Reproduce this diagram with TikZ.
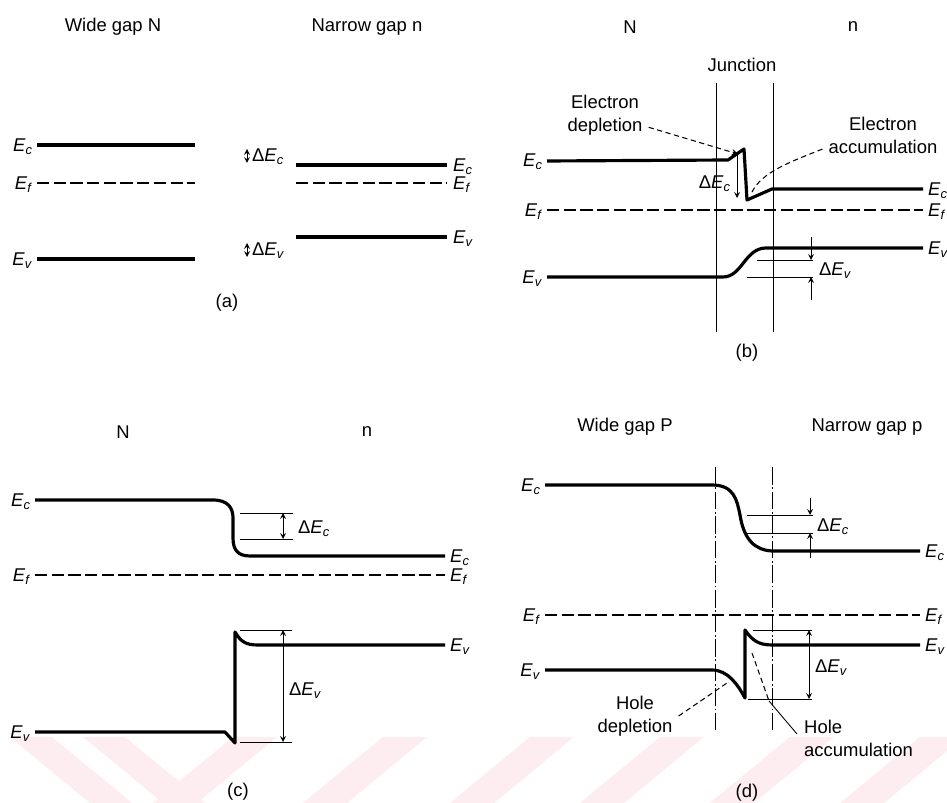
\documentclass[tikz,border=0pt]{standalone}
\usepackage{fontspec}
\setmainfont{Liberation Sans}
\newcommand{\bandE}[1]{\textit{E}\textsubscript{\textit{#1}}}
\newcommand{\dbandE}[1]{Δ\bandE{#1}}
\definecolor{wmpink}{RGB}{253,236,240}
\begin{document}
\begin{tikzpicture}[x=0.02cm, y=-0.02cm, >=stealth,
  font=\fontsize{10.5}{13}\selectfont,
  bandline/.style={black, line width=1.8pt, line join=round},
  fermiline/.style={black, line width=1.3pt, dash pattern=on 7pt off 2.5pt},
  thinline/.style={black, line width=0.5pt},
  junctline/.style={black, line width=0.5pt, dash pattern=on 10pt off 1.5pt on 1pt off 1.5pt},
  leader/.style={black, line width=0.6pt, dash pattern=on 3pt off 2pt},
  lbl/.style={inner sep=1pt}]
\useasboundingbox (0,0) rectangle (947,803);

% watermark stripes
\begin{scope}
\clip (0,737) rectangle (947,803);
\foreach \a in {10,83}
  \fill[wmpink] (\a,737) -- (\a+42,737) -- (\a+122,803) -- (\a+80,803) -- cycle;
\foreach \a in {233,383,530,660,790,920}
  \fill[wmpink] (\a,737) -- (\a+44,737) -- (\a-36,803) -- (\a-80,803) -- cycle;
\end{scope}

% (a) before contact
\node (tWideN) at (113,27) {Wide gap N};
\node (tNarrowN) at (367,27) {Narrow gap n};

\draw[bandline] (37,145) -- (195,145);
\draw[fermiline] (37,183) -- (195,183);
\draw[bandline] (37,259) -- (195,259);
\node[lbl, anchor=east] (aEcL) at (35,147) {\bandE{c}};
\node[lbl, anchor=east] (aEfL) at (35,185) {\bandE{f}};
\node[lbl, anchor=east] (aEvL) at (35,261) {\bandE{v}};

\draw[bandline] (296,165) -- (447,165);
\draw[fermiline] (296,183) -- (447,183);
\draw[bandline] (296,237) -- (447,237);
\node[lbl, anchor=west] (aEcR) at (451,167) {\bandE{c}};
\node[lbl, anchor=west] (aEfR) at (451,185) {\bandE{f}};
\node[lbl, anchor=west] (aEvR) at (451,239) {\bandE{v}};

\draw[thinline, <->] (247,149) -- (247,163);
\node[lbl, anchor=west] (aDEc) at (250,157) {\dbandE{c}};
\draw[thinline, <->] (247,243) -- (247,257);
\node[lbl, anchor=west] (aDEv) at (250,251) {\dbandE{v}};

\node (capA) at (227,303) {(a)};

% (b) N-n junction
\node (tN) at (630,27) {N};
\node (tn) at (853,27) {n};
\node (junc) at (742,65) {Junction};
\draw[thinline] (716,83) -- (716,332);
\draw[thinline] (773,83) -- (773,332);

\draw[bandline] (547,161) -- (728,160) -- (744,149) -- (747,200) -- (772,189) -- (923,189);
\draw[fermiline] (547,210) -- (923,210);
\draw[bandline] (547,277) -- (723,277) .. controls (742,277) and (745,248) .. (766,248) -- (923,248);
\node[lbl, anchor=east] (bEcL) at (545,162) {\bandE{c}};
\node[lbl, anchor=east] (bEfL) at (545,212) {\bandE{f}};
\node[lbl, anchor=east] (bEvL) at (545,279) {\bandE{v}};
\node[lbl, anchor=west] (bEcR) at (926,191) {\bandE{c}};
\node[lbl, anchor=west] (bEfR) at (926,212) {\bandE{f}};
\node[lbl, anchor=west] (bEvR) at (926,250) {\bandE{v}};

\draw[thinline, ->] (737,152) -- (737,198);
\node[lbl, anchor=east] (bDEc) at (733,184) {\dbandE{c}};

\draw[thinline] (757,260) -- (813,260);
\draw[thinline] (747,277) -- (813,277);
\draw[thinline, ->] (811,237) -- (811,260);
\draw[thinline, ->] (811,300) -- (811,277);
\node[lbl, anchor=west] (bDEv) at (817,271) {\dbandE{v}};

\node[align=center] (eDepl) at (605,115) {Electron\\depletion};
\coordinate (eDeplTip) at (738,154);
\draw[leader, ->] ([yshift=-7pt]eDepl.east) -- (eDeplTip);
\node[align=center] (eAccu) at (883,135) {Electron\\accumulation};
\coordinate (eAccuTip) at (752,192);
\draw[leader] ([yshift=-8pt]eAccu.west) .. controls (790,162) and (762,172) .. (eAccuTip);

\node (capB) at (747,353) {(b)};

% (c) N-n, abrupt
\node (tNc) at (123,432) {N};
\node (tnc) at (367,432) {n};

\draw[bandline] (35,500) -- (213,500) .. controls (228,500) and (233,508) .. (233,518) -- (233,538) .. controls (233,550) and (238,556) .. (250,556) -- (445,556);
\draw[fermiline] (35,575) -- (445,575);
\draw[bandline] (35,732) -- (225,732) -- (235,743) -- (235,632) .. controls (241,642) and (246,645) .. (258,645) -- (445,645);
\node[lbl, anchor=east] (cEcL) at (33,502) {\bandE{c}};
\node[lbl, anchor=east] (cEfL) at (33,577) {\bandE{f}};
\node[lbl, anchor=east] (cEvL) at (33,734) {\bandE{v}};
\node[lbl, anchor=west] (cEcR) at (448,558) {\bandE{c}};
\node[lbl, anchor=west] (cEfR) at (448,577) {\bandE{f}};
\node[lbl, anchor=west] (cEvR) at (448,647) {\bandE{v}};

\draw[thinline] (240,513) -- (293,513);
\draw[thinline] (240,539) -- (293,539);
\draw[thinline, <->] (283,513) -- (283,539);
\node[lbl, anchor=west] (cDEc) at (296,529) {\dbandE{c}};

\draw[thinline] (240,630) -- (292,630);
\draw[thinline] (240,742) -- (292,742);
\draw[thinline, <->] (283,630) -- (283,742);
\node[lbl, anchor=west] (cDEv) at (287,691) {\dbandE{v}};

\node (capC) at (238,792) {(c)};

% (d) P-p junction
\node (tWideP) at (625,427) {Wide gap P};
\node (tNarrowP) at (867,427) {Narrow gap p};
\draw[junctline] (715,467) -- (715,730);
\draw[junctline] (772,467) -- (772,730);

\draw[bandline] (545,485) -- (712,485) .. controls (734,485) and (737,500) .. (740,515) .. controls (744,540) and (755,550) .. (772,551) -- (920,551);
\draw[fermiline] (545,615) -- (920,615);
\draw[bandline] (545,670) -- (712,670) .. controls (728,670) and (738,685) .. (745,698) -- (745,630) .. controls (752,640) and (758,645) .. (772,645) -- (920,645);
\node[lbl, anchor=east] (dEcL) at (543,487) {\bandE{c}};
\node[lbl, anchor=east] (dEfL) at (543,617) {\bandE{f}};
\node[lbl, anchor=east] (dEvL) at (543,672) {\bandE{v}};
\node[lbl, anchor=west] (dEcR) at (923,553) {\bandE{c}};
\node[lbl, anchor=west] (dEfR) at (923,617) {\bandE{f}};
\node[lbl, anchor=west] (dEvR) at (923,647) {\bandE{v}};

\draw[thinline] (747,515) -- (813,515);
\draw[thinline] (747,533) -- (813,533);
\draw[thinline, ->] (810,498) -- (810,515);
\draw[thinline, ->] (810,558) -- (810,533);
\node[lbl, anchor=west] (dDEc) at (815,527) {\dbandE{c}};

\draw[thinline] (753,630) -- (812,630);
\draw[thinline] (748,699) -- (812,699);
\draw[thinline, <->] (809,630) -- (809,699);
\node[lbl, anchor=west] (dDEv) at (813,668) {\dbandE{v}};

\node[align=center] (hDepl) at (635,716) {Hole\\depletion};
\coordinate (hDeplTip) at (727,683);
\draw[leader] (hDepl.east) -- (hDeplTip);
\node[align=left, anchor=west] (hAccu) at (798,738) {Hole\\accumulation};
\coordinate (hAccuTip) at (752,653);
\coordinate (hAccuBend) at (769,701);
\draw[leader] (hAccuTip) -- (hAccuBend);
\draw[thinline] (hAccuBend) -- (797,734);

\node (capD) at (747,793) {(d)};
\end{tikzpicture}
\end{document}
